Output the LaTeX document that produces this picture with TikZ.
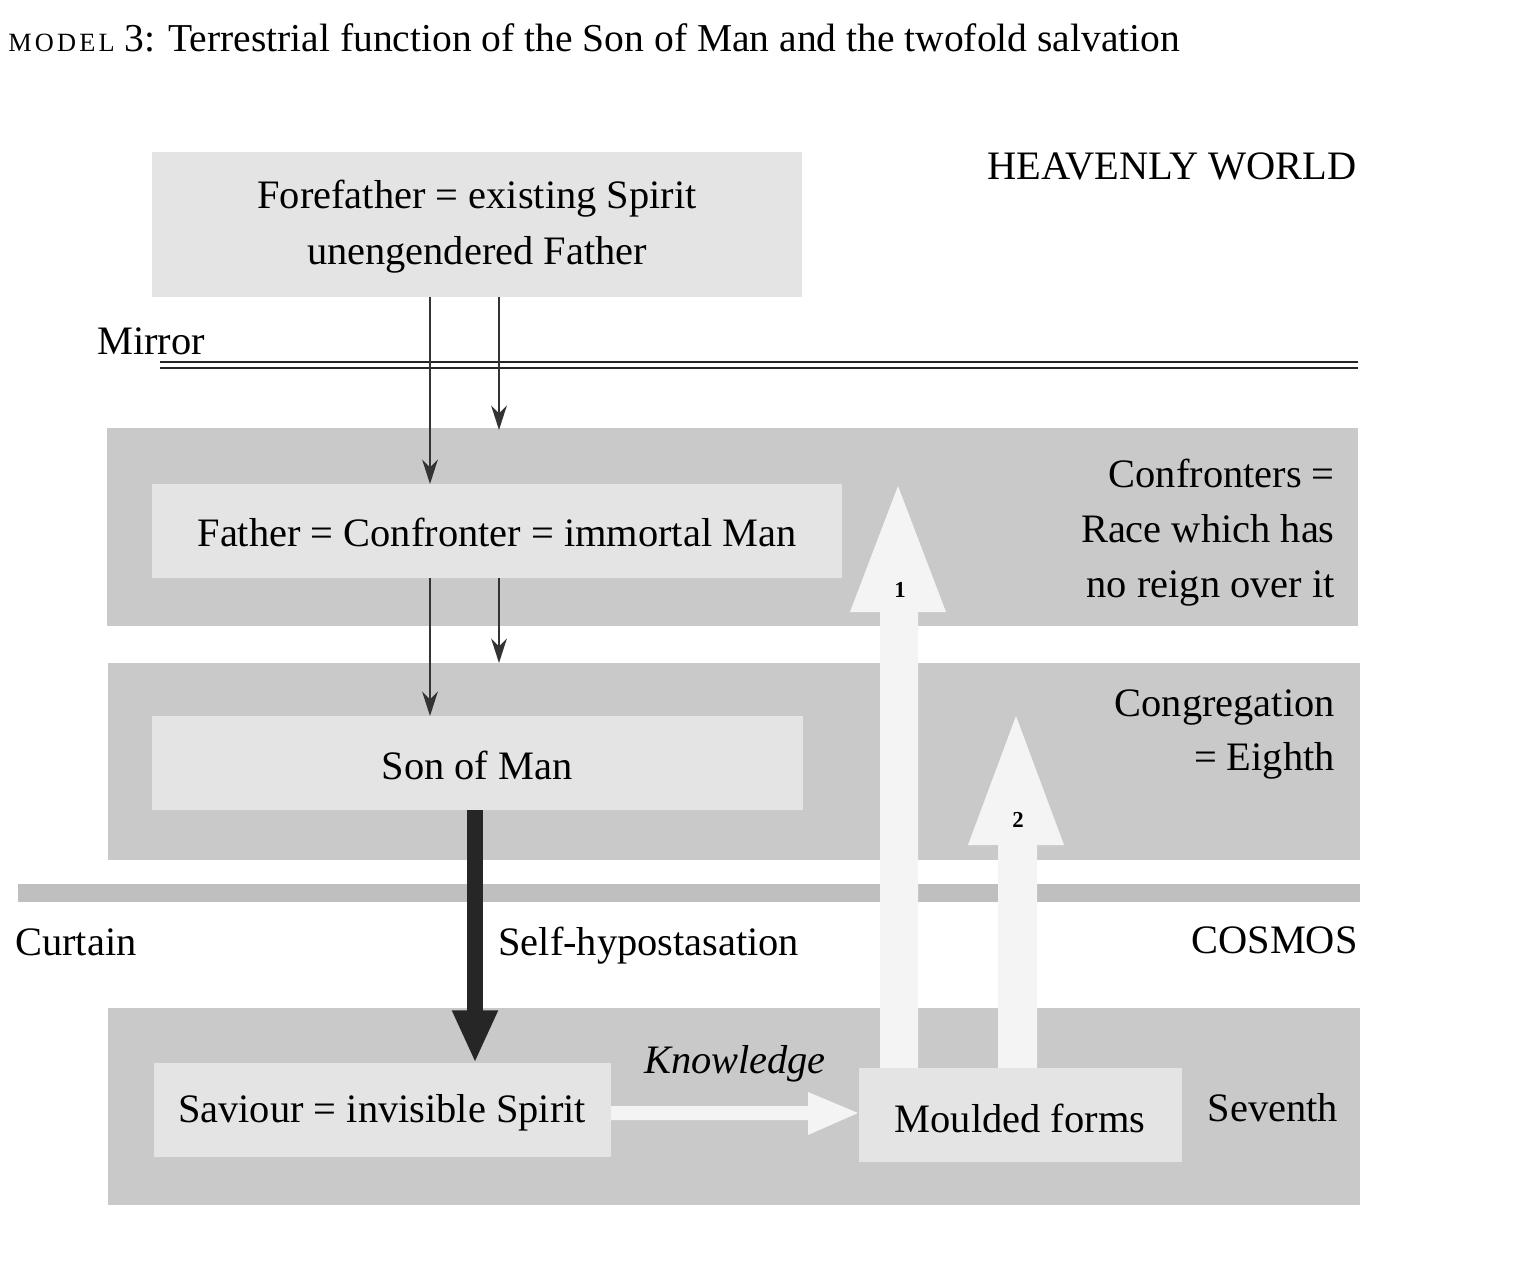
\documentclass[tikz,border=0pt]{standalone}
\usepackage{fontspec}
\setmainfont{Liberation Serif}
\usetikzlibrary{arrows.meta}
\definecolor{band}{HTML}{C9C9C9}
\definecolor{light}{HTML}{E4E4E4}
\definecolor{pale}{HTML}{F4F4F4}
\tikzset{
  txt/.style={font=\fontsize{23}{28}\selectfont, inner sep=0pt},
  lab/.style={txt, anchor=base},
  boxlab/.style={txt, align=center},
  thin/.style={draw=black!80, line width=1.1pt, -{Stealth[length=14pt,width=9pt]}},
}
\begin{document}
\begin{tikzpicture}[x=0.02cm,y=-0.02cm]
\useasboundingbox (0,0) rectangle (1525,1287);
% title
\node[anchor=base west, font=\fontsize{22.5}{26}\selectfont, inner sep=0pt] (title) at (8,52) {{\fontsize{15}{18}\selectfont\addfontfeature{LetterSpace=12}MODEL} 3: Terrestrial function of the Son of Man and the twofold salvation};
% bands
\fill[band] (107,428) rectangle (1358,626);
\fill[band] (108,663) rectangle (1360,860);
\fill[band] (108,1008) rectangle (1360,1205);
% boxes
\fill[light] (152,152) rectangle (802,297);
\node[boxlab] (fore) at (477,227) {Forefather = existing Spirit\\[4pt]unengendered Father};
\fill[light] (152,484) rectangle (842,578);
\node[boxlab] (father) at (497,532) {Father = Confronter = immortal Man};
\fill[light] (152,716) rectangle (803,810);
\node[boxlab] (son) at (477,765) {Son of Man};
\fill[light] (154,1063) rectangle (611,1157);
\node[boxlab] (sav) at (382,1113) {Saviour = invisible Spirit};
\fill[light] (859,1068) rectangle (1182,1162);
\node[boxlab] (mould) at (1020,1118) {Moulded forms};
\coordinate (foreb1) at (430,297); \coordinate (foreb2) at (499,297);
\coordinate (fatht) at (430,484); \coordinate (bandt) at (499,430);
\coordinate (fathb1) at (430,578); \coordinate (fathb2) at (499,578);
\coordinate (sont) at (430,716); \coordinate (band2t) at (499,663);
\coordinate (sonb) at (475,810); \coordinate (savt) at (475,1063);
% lines
\draw[black!85, line width=1.3pt] (160,362) -- (1358,362);
\draw[black!85, line width=1.3pt] (160,368) -- (1358,368);
\draw[black!25, line width=10pt] (18,893) -- (1360,893);
% thin arrows
\draw[thin] (foreb1) -- (fatht);
\draw[thin] (foreb2) -- (bandt);
\draw[thin] (fathb1) -- (sont);
\draw[thin] (fathb2) -- (band2t);
\draw[black!85, line width=9pt, -{Triangle[length=30pt,width=24pt]}] (sonb) -- (savt);
% block arrows
\fill[pale] (880,1068) -- (880,612) -- (850,612) -- (898,486) -- (946,612) -- (918,612) -- (918,1068) -- cycle;
\fill[pale] (998,1068) -- (998,845) -- (968,845) -- (1016,716) -- (1064,845) -- (1037,845) -- (1037,1068) -- cycle;
\fill[pale] (611,1106) -- (808,1106) -- (808,1092) -- (858,1113) -- (808,1135) -- (808,1120) -- (611,1120) -- cycle;
\node[font=\fontsize{13}{15}\selectfont\bfseries] (n1) at (900,590) {1};
\node[font=\fontsize{13}{15}\selectfont\bfseries] (n2) at (1018,820) {2};
% labels
\node[lab, anchor=base east] (hw) at (1357,180) {HEAVENLY WORLD};
\node[lab, anchor=base west] (mirror) at (97,355) {Mirror};
\node[lab, anchor=base east] (c1) at (1335,487) {Confronters =};
\node[lab, anchor=base east] (c2) at (1335,542) {Race which has};
\node[lab, anchor=base east] (c3) at (1335,597) {no reign over it};
\node[lab, anchor=base east] (g1) at (1335,716) {Congregation};
\node[lab, anchor=base east] (g2) at (1335,770) {= Eighth};
\node[lab, anchor=base west] (curt) at (15,955) {Curtain};
\node[lab, anchor=base west] (self) at (498,955) {Self-hypostasation};
\node[lab, anchor=base east] (cos) at (1358,953) {COSMOS};
\node[lab, font=\fontsize{23}{28}\selectfont\itshape] (kn) at (735,1073) {Knowledge};
\node[lab] (sev) at (1273,1121) {Seventh};
\end{tikzpicture}
\end{document}
